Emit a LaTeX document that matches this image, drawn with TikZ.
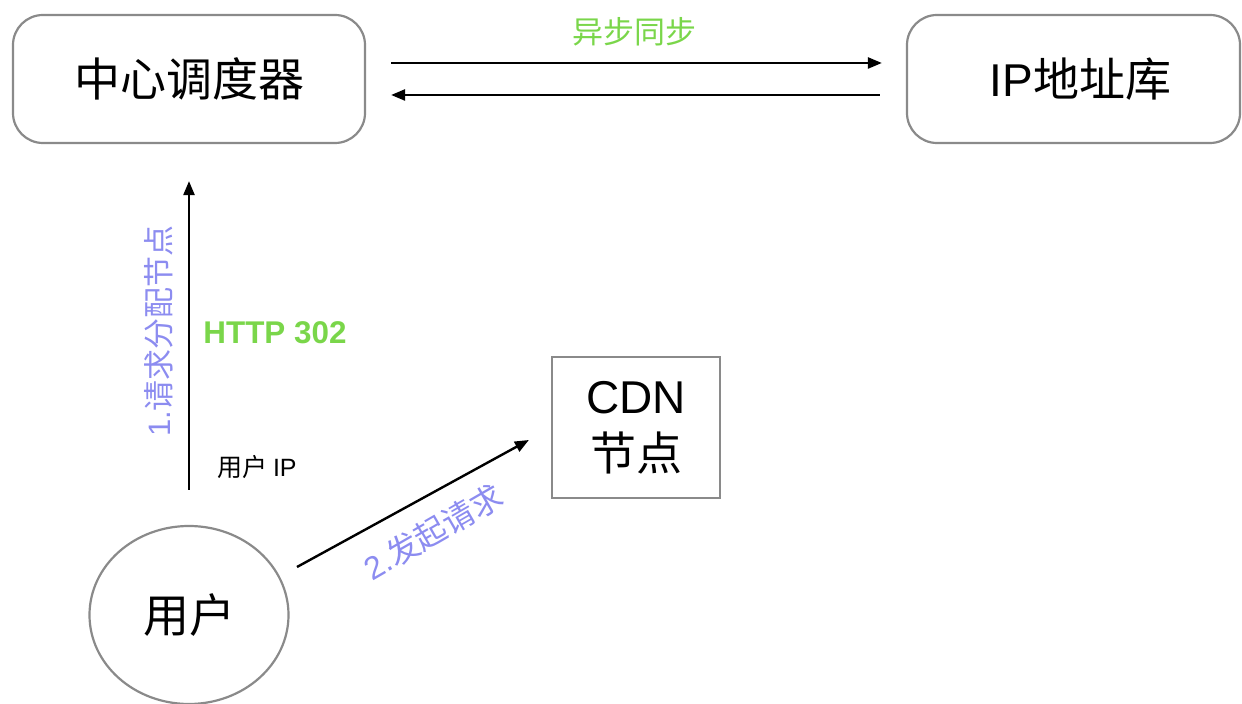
\documentclass[tikz,border=0pt]{standalone}
\usepackage{fontspec}
\setmainfont{Noto Sans CJK SC}
\newfontfamily\lat{Liberation Sans}
\usetikzlibrary{arrows.meta,calc,shapes.geometric}
\definecolor{bordergray}{HTML}{8A8A8A}
\definecolor{lblgreen}{HTML}{7AD64A}
\definecolor{lblpurple}{HTML}{8C8CF0}
\begin{document}
\begin{tikzpicture}[x=0.5pt,y=-0.5pt,
  big/.style={font=\fontsize{23}{28.5}\selectfont},
  roundbox/.style={big,draw=bordergray,line width=1.1pt,rounded corners=15pt,minimum height=64pt,inner sep=0pt},
  plainbox/.style={big,draw=bordergray,line width=1.1pt,inner sep=0pt,align=center},
  userell/.style={big,draw=bordergray,line width=1.1pt,ellipse,inner sep=0pt},
  arr/.style={-{Triangle[length=7pt,width=5.5pt]},line width=1.2pt},
  greenlbl/.style={text=lblgreen,inner sep=0pt},
  purplelbl/.style={text=lblpurple,inner sep=0pt,font=\fontsize{15.5}{18}\selectfont}]
\useasboundingbox (0,0) rectangle (1242,704);

\node[roundbox,minimum width=176pt] (sched) at (189,79) {中心调度器};
\node[roundbox,minimum width=166.5pt] (ipdb) at (1073.5,79) {\hspace{7pt}{\lat IP}地址库};
\node[userell,minimum width=99.5pt,minimum height=89pt] (user) at (189,615) {用户};
\node[plainbox,minimum width=84pt,minimum height=70.5pt] (cdn) at (636,427.5) {{\lat CDN}\\节点};

\draw[arr] ($(sched.east)+(25,-16)$) -- ($(ipdb.west)+(-24,-16)$);
\draw[arr] ($(ipdb.west)+(-26,16)$) -- ($(sched.east)+(25,16)$);
\node[greenlbl,font=\fontsize{15.5}{18}\selectfont] (sync) at (634,32) {异步同步};

\draw[arr] ($(user.north)+(0,-35)$) -- ($(sched.south)+(0,37)$);
\node[purplelbl,rotate=90] (lbl1) at (159,331) {{\lat 1.}请求分配节点};
\node[greenlbl,anchor=west,font=\lat\bfseries\fontsize{15.7}{18}\selectfont] (http) at (203,333) {HTTP 302};
\node[anchor=west,inner sep=0pt,font=\fontsize{12.5}{15}\selectfont] (uip) at (217,467) {用户 {\lat IP}};

\draw[arr] ($(user.center)+(108,-48)$) -- ($(cdn.west)+(-22,12.5)$);
\node[purplelbl,rotate=30,font=\fontsize{16}{19}\selectfont] (lbl2) at (433,532) {{\lat 2.}发起请求};
\end{tikzpicture}
\end{document}
